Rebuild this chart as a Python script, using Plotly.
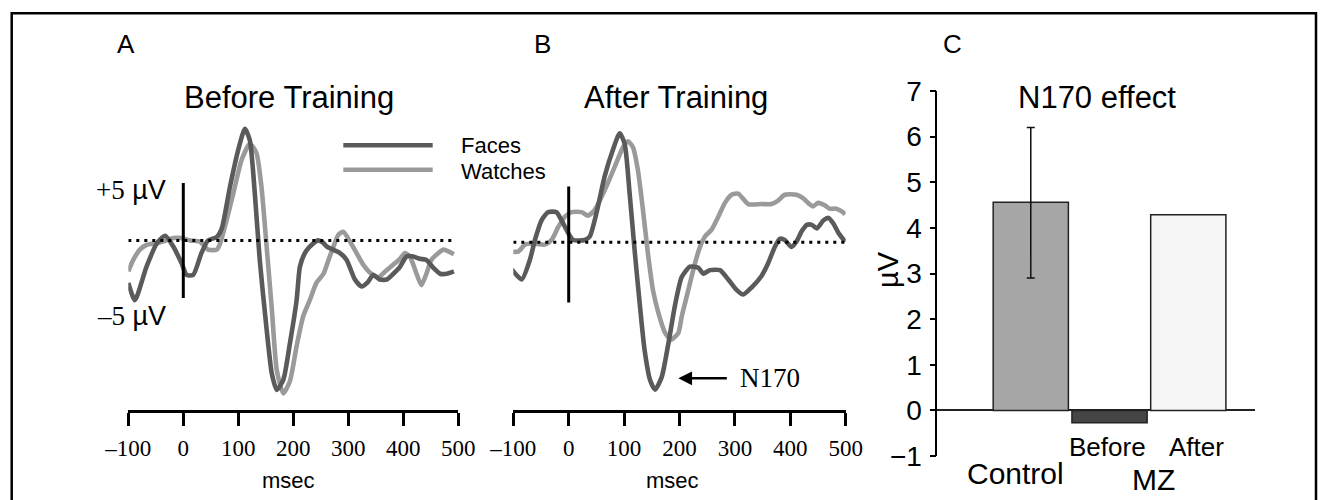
import plotly.graph_objects as go

W, H = 1323, 500

# ---------------- data ----------------
# Panel A: Before training (time in ms, amplitude in µV)
A_FACES_T = [-100, -88, -67, -48, -33, -18, -3, 6, 18, 33, 45, 61, 70, 85, 100, 112, 121, 130, 139, 151,
             161, 170, 182, 194, 206, 212, 221, 230, 245, 254, 261, 285, 297, 312, 324, 336, 345, 357, 370,
             382, 394, 406, 418, 430, 442, 455, 467, 479, 492]
A_FACES_V = [-3.7, -5.2, -2.3, -0.25, 0.4, -0.55, -2.0, -3.0, -3.0, -1.1, 0.0, 0.3, 1.05, 4.7, 7.9, 9.7, 8.7,
             4.1, -1.7, -7.5, -11.6, -13.0, -12.1, -8.9, -5.2, -2.3, -1.1, -0.55, 0.0, -0.2, -0.55, -1.1,
             -1.7, -3.4, -4.0, -3.6, -3.0, -3.4, -3.4, -2.9, -2.3, -1.4, -1.4, -1.6, -1.7, -2.4, -2.9, -2.9, -2.7]
A_WATCH_T = [-100, -91, -79, -67, -48, -30, -18, -3, 12, 30, 45, 61, 67, 79, 91, 106, 121, 133, 142, 151, 161,
             170, 182, 194, 206, 218, 230, 242, 255, 264, 273, 282, 291, 303, 315, 327, 342, 355, 367, 382,
             394, 403, 412, 424, 433, 442, 451, 464, 473, 492]
A_WATCH_V = [-2.7, -1.7, -0.8, -0.4, -0.25, 0.0, 0.2, 0.2, 0.0, -0.1, -0.8, -0.8, -0.25, 1.8, 4.1, 7.0, 8.4,
             7.6, 4.7, -0.25, -6.0, -11.3, -13.3, -12.2, -9.2, -6.6, -5.2, -3.7, -2.9, -1.7, -0.55, 0.5,
             0.75, -0.1, -1.1, -2.1, -2.9, -3.2, -2.7, -2.1, -1.6, -1.1, -1.4, -2.9, -3.9, -2.9, -1.7, -1.1,
             -0.8, -1.2]

# Panel B: After training
B_FACES_T = [-105, -85, -70, -61, -49, -37, -22, -13, -1, 8, 29, 38, 50, 65, 80, 92, 101, 110, 119, 128, 137,
             147, 156, 168, 180, 192, 204, 219, 234, 243, 255, 273, 288, 303, 315, 330, 348, 360, 372, 381,
             390, 402, 411, 420, 430, 439, 448, 460, 469, 478, 487, 499]
B_FACES_V = [-2.2, -3.2, -1.5, 0.2, 1.9, 2.6, 2.6, 1.9, 0.8, 0.2, 0.2, 0.5, 2.5, 5.7, 8.0, 9.4, 8.5, 4.2,
             -0.7, -5.2, -9.3, -11.9, -12.7, -11.6, -8.7, -5.4, -3.0, -2.1, -2.2, -2.7, -2.4, -2.4, -3.2,
             -4.1, -4.5, -3.9, -2.9, -1.8, -0.4, 0.3, 0.2, -0.4, 0.05, 0.9, 1.5, 1.5, 1.2, 1.9, 2.1, 1.6,
             0.8, 0.05]
B_WATCH_T = [-105, -91, -79, -64, -43, -31, -19, -7, 5, 23, 35, 47, 65, 83, 98, 107, 116, 125, 134, 143, 152,
             162, 174, 185, 198, 204, 216, 228, 237, 246, 258, 270, 282, 294, 306, 324, 348, 366, 378, 390,
             411, 423, 432, 441, 450, 462, 471, 483, 495, 499]
B_WATCH_V = [-0.8, -0.8, -0.2, -0.1, -0.2, 0.2, 1.3, 2.2, 2.6, 2.6, 2.3, 2.8, 4.5, 6.5, 8.2, 8.7, 8.2, 6.2,
             2.8, -0.95, -4.1, -6.1, -7.8, -8.4, -7.8, -6.4, -4.1, -1.8, -0.4, 0.5, 1.1, 2.2, 3.4, 4.1, 4.2,
             3.3, 3.3, 3.3, 3.6, 4.1, 4.1, 3.8, 3.4, 3.1, 3.4, 3.2, 2.9, 2.9, 2.6, 2.4]

X_TICKS = [-100, 0, 100, 200, 300, 400, 500]
X_TICK_TEXT = ["\u2013100", "0", "100", "200", "300", "400", "500"]
SCALE_BAR_A = [5, -5]
SCALE_BAR_B = [4.8, -5.2]

# Panel C: N170 effect
C_CATS = ["Control", "Before", "After"]
C_VALUES = [4.56, -0.27, 4.29]
C_ERR_UP = 1.64     # Control only
C_ERR_DOWN = 1.66
C_TICKS = [-1, 0, 1, 2, 3, 4, 5, 6, 7]

FACES_COLOR = "#5a5a5a"
WATCH_COLOR = "#9a9a9a"
BAR_COLORS = ["#a6a6a6", "#454545", "#f5f5f5"]

SANS = "Liberation Sans"
SERIF = "Liberation Serif"


def PX(x):
    return x / W


def PY(y):
    return 1 - y / H


fig = go.Figure()

# ERP curves (light first, dark on top)
for xa, ya, t, v, col in [("x", "y", A_WATCH_T, A_WATCH_V, WATCH_COLOR),
                          ("x", "y", A_FACES_T, A_FACES_V, FACES_COLOR),
                          ("x2", "y2", B_WATCH_T, B_WATCH_V, WATCH_COLOR),
                          ("x2", "y2", B_FACES_T, B_FACES_V, FACES_COLOR)]:
    fig.add_trace(go.Scatter(x=t, y=v, xaxis=xa, yaxis=ya, mode="lines",
                             line=dict(color=col, width=4.6, shape="spline", smoothing=0.6),
                             showlegend=False, hoverinfo="skip"))

# bars (panel C), one trace per category, overlayed at numeric positions
for i, (cat, val, col) in enumerate(zip(C_CATS, C_VALUES, BAR_COLORS)):
    kw = {}
    if cat == "Control":
        kw["error_y"] = dict(type="data", symmetric=False, array=[C_ERR_UP], arrayminus=[C_ERR_DOWN],
                             color="#111111", thickness=1.5, width=4)
    fig.add_trace(go.Bar(x=[i], y=[val], xaxis="x3", yaxis="y3", width=0.955, name=cat,
                         marker=dict(color=col, line=dict(color="#222222", width=1.5)),
                         showlegend=False, hoverinfo="skip", **kw))

shapes = []
# dotted baselines and scale bars
for xref, yref, t, bar in [("x", "y", A_FACES_T, SCALE_BAR_A), ("x2", "y2", B_FACES_T, SCALE_BAR_B)]:
    shapes.append(dict(type="line", xref=xref, yref=yref, x0=max(t[0], -100), x1=t[-1], y0=0, y1=0,
                       line=dict(color="black", width=3, dash="3px,5px")))
    shapes.append(dict(type="line", xref=xref, yref=yref, x0=0, x1=0, y0=bar[0], y1=bar[1],
                       line=dict(color="black", width=3)))

# legend lines
shapes.append(dict(type="line", xref="paper", yref="paper", x0=PX(343.3), x1=PX(432.7), y0=PY(145.3),
                   y1=PY(145.3), line=dict(color=FACES_COLOR, width=4.5)))
shapes.append(dict(type="line", xref="paper", yref="paper", x0=PX(343.3), x1=PX(432.7), y0=PY(169.7),
                   y1=PY(169.7), line=dict(color=WATCH_COLOR, width=4.5)))

# outer frame
shapes.append(dict(type="rect", xref="paper", yref="paper", x0=PX(11.7), x1=PX(1316), y0=PY(13.3), y1=-0.1,
                   line=dict(color="black", width=2.5), layer="below"))

ann = []


def text(x, y, s, size, family=SANS, xanchor="center", yanchor="middle", angle=0):
    ann.append(dict(x=PX(x), y=PY(y), xref="paper", yref="paper", text=s, showarrow=False,
                    xanchor=xanchor, yanchor=yanchor, textangle=angle,
                    font=dict(family=family, size=size, color="black")))


text(125.5, 44, "A", 26)
text(542.5, 44, "B", 26)
text(952.5, 44, "C", 26)
text(289, 97.5, "Before Training", 31)
text(675.5, 97.5, "After Training", 31)
text(1096.7, 97.5, "N170 effect", 31)
text(459, 145.7, "Faces", 22, xanchor="left")
text(459, 171.7, "Watches", 22, xanchor="left")
text(168.3, 190, '<span style="font-family:Liberation Serif">+5</span> µV', 27, xanchor="right")
text(168.3, 316, '<span style="font-family:Liberation Serif">\u20135</span> µV', 27, xanchor="right")
text(738.3, 377.5, "N170", 27, family=SERIF, xanchor="left")
text(288, 480, "msec", 22)
text(673, 480, "msec", 22)
text(888, 270, "µV", 29, angle=-90)
text(1107.5, 446.7, "Before", 26)
text(1196.7, 446.7, "After", 26)
text(1015.5, 473, "Control", 30)
text(1153.8, 479, "MZ", 30)

# N170 arrow
ann.append(dict(x=PX(678.3), y=PY(378.3), xref="paper", yref="paper", ax=50, ay=0, text="",
                showarrow=True, arrowhead=2, arrowsize=1.1, arrowwidth=2.5, arrowcolor="black"))

xaxis_common = dict(range=[-100, 500], showline=True, linewidth=3, linecolor="black", ticks="outside",
                    ticklen=13, tickwidth=3, tickcolor="black", tickvals=X_TICKS, ticktext=X_TICK_TEXT,
                    tickfont=dict(family=SERIF, size=23, color="black"), showgrid=False, zeroline=False,
                    ticklabelstandoff=2, automargin=False)

fig.update_layout(
    width=W, height=H, margin=dict(l=0, r=0, t=0, b=0, pad=0, autoexpand=False),
    paper_bgcolor="white", plot_bgcolor="rgba(0,0,0,0)", showlegend=False,
    xaxis=dict(domain=[PX(128.3), PX(458.3)], anchor="y", **xaxis_common),
    yaxis=dict(domain=[PY(410), PY(100)], range=[(240.4 - 410) / 11.5, (240.4 - 100) / 11.5],
               visible=False, anchor="x", automargin=False),
    xaxis2=dict(domain=[PX(513.3), PX(845.7)], anchor="y2", **xaxis_common),
    yaxis2=dict(domain=[PY(410), PY(100)], range=[(242.3 - 410) / 11.6, (242.3 - 100) / 11.6],
                visible=False, anchor="x2", automargin=False),
    xaxis3=dict(domain=[PX(937.3), PX(1255)], range=[-1.187, 2.847], visible=False, anchor="y3",
                automargin=False),
    yaxis3=dict(domain=[PY(456), PY(91)], range=[-1, 7], anchor="x3", showline=True, linewidth=1.5,
                linecolor="black", ticks="outside", ticklen=6, tickwidth=1.5, tickcolor="black",
                tickvals=C_TICKS, tickfont=dict(family=SANS, size=28, color="black"), showgrid=False,
                zeroline=True, zerolinecolor="#222222", zerolinewidth=1.5, ticklabelstandoff=2,
                automargin=False),
    shapes=shapes, annotations=ann, barmode="overlay",
)

fig.write_html("out.html", config={"displayModeBar": False},
               post_script="document.body.style.margin='0';")
